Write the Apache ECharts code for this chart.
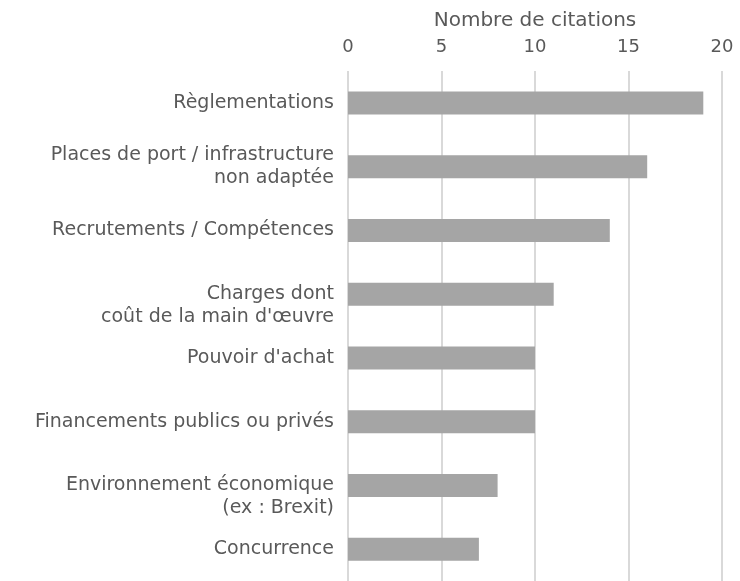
<!DOCTYPE html>
<html>
<head>
<meta charset="utf-8">
<script src="https://cdn.jsdelivr.net/npm/echarts@6/dist/echarts.min.js"></script>
<style>
  html, body { margin: 0; padding: 0; background: #fff; }
  #chart { width: 740px; height: 581px; }
</style>
</head>
<body>
<div id="chart"></div>
<script>
// Obstacles cited, number of citations
const categories = [
  'Règlementations',
  'Places de port / infrastructure\nnon adaptée',
  'Recrutements / Compétences',
  'Charges dont\ncoût de la main d\'œuvre',
  'Pouvoir d\'achat',
  'Financements publics ou privés',
  'Environnement économique\n(ex : Brexit)',
  'Concurrence'
];
const citations = [19, 16, 14, 11, 10, 10, 8, 7];
const axisTicks = [0, 5, 10, 15, 20];
const axisTitle = 'Nombre de citations';

// labels that sit half a line lower than their bar
const loweredLabels = [3, 6];

const font = 'DejaVu Sans';
const textColor = '#595959';

const chart = echarts.init(document.getElementById('chart'));
chart.setOption({
  animation: false,
  grid: { left: 348, right: 18, top: 71, bottom: -6, containLabel: false },
  xAxis: {
    type: 'value',
    position: 'top',
    min: axisTicks[0],
    max: axisTicks[axisTicks.length - 1],
    interval: axisTicks[1] - axisTicks[0],
    name: axisTitle,
    nameLocation: 'middle',
    nameGap: 40,
    nameTextStyle: { color: textColor, fontSize: 20, fontFamily: font },
    axisLine: { show: false },
    axisTick: { show: false },
    axisLabel: { color: textColor, fontSize: 18, fontFamily: font, margin: 15 },
    splitLine: { show: true, lineStyle: { color: '#d9d9d9', width: 2 } }
  },
  yAxis: {
    type: 'category',
    inverse: true,
    data: categories,
    axisLine: { show: false },
    axisTick: { show: false },
    axisLabel: {
      color: textColor, fontSize: 19, fontFamily: font,
      lineHeight: 23, margin: 14, align: 'right',
      formatter: (value, index) => loweredLabels.includes(index) ? '\n' + value : value
    }
  },
  series: [{
    type: 'bar',
    data: citations,
    barWidth: 23,
    itemStyle: { color: '#a5a5a5' }
  }]
});
</script>
</body>
</html>
